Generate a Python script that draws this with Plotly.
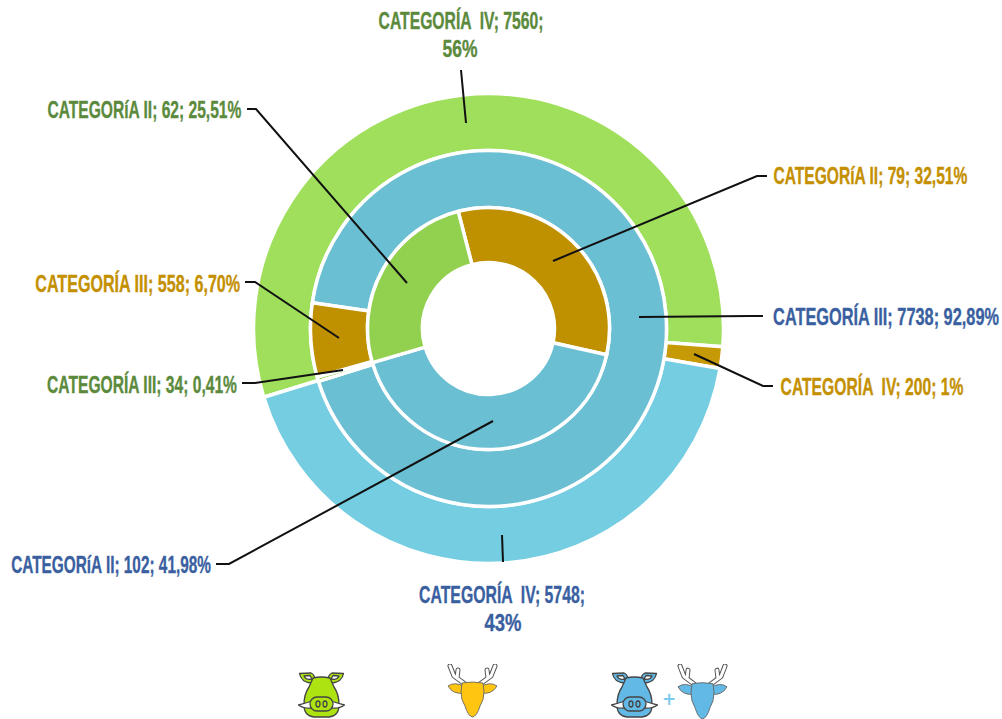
import base64
import json
import plotly.graph_objects as go

W, H = 1002, 719
CX, CY = 488.5, 328.5

# ---- data ----
outer_labels = ["Categoría IV (verde)", "Categoría IV (dorado)", "Categoría IV (azul)"]
outer_values = [7560, 200, 5748]
middle_labels = ["Categoría III (azul)", "Categoría III (verde)", "Categoría III (dorado)"]
middle_values = [7738, 34, 558]
inner_labels = ["Categoría II (dorado)", "Categoría II (azul)", "Categoría II (verde)"]
inner_values = [79, 102, 62]

outer_colors = ["#A0DF5C", "#C69A06", "#74CDE0"]
middle_colors = ["#6BBFD2", "#92D050", "#BF9000"]
inner_colors = ["#BF9000", "#6BBFD2", "#92D050"]

GREEN, GOLD, BLUE = "#5B8A3C", "#C49000", "#3A5FA0"

# text, left x, right x, y, colour
labels = [
    ("CATEGORÍA  IV; 7560;", 378, 543, 20, GREEN),
    ("56%", 442, 477, 48, GREEN),
    ("CATEGORíA II; 62; 25,51%", 47, 241, 109, GREEN),
    ("CATEGORÍA III; 558; 6,70%", 35, 240, 283, GOLD),
    ("CATEGORÍA III; 34; 0,41%", 47, 237, 384, GREEN),
    ("CATEGORíA II; 102; 41,98%", 11, 211, 564, BLUE),
    ("CATEGORÍA  IV; 5748;", 419, 585, 594, BLUE),
    ("43%", 484, 521, 622, BLUE),
    ("CATEGORíA II; 79; 32,51%", 773, 967, 176, GOLD),
    ("CATEGORÍA III; 7738; 92,89%", 773, 999, 316, BLUE),
    ("CATEGORÍA  IV; 200; 1%", 780, 963, 386, GOLD),
]

leaders = [
    [(247, 109), (256, 109), (407, 283)],
    [(245, 282), (255, 282), (339, 338)],
    [(242, 383), (255, 383), (343, 370)],
    [(216, 564), (229, 564), (493, 421)],
    [(461, 70), (466, 123)],
    [(502, 535), (503, 562)],
    [(767, 176), (757, 176), (553, 261)],
    [(763, 316), (750, 316), (639, 317)],
    [(773, 386), (763, 386), (694, 354)],
]


def px(x):
    return x / W


def py(y):
    return 1 - y / H


def domain(r):
    return dict(x=[px(CX - r), px(CX + r)], y=[py(CY + r), py(CY - r)])


def ring(vals, names, cols, r_out, r_in, rot):
    return go.Pie(
        values=vals, labels=names, marker=dict(colors=cols, line=dict(color="white", width=3.5)),
        hole=r_in / r_out, domain=domain(r_out), rotation=rot, sort=False,
        direction="clockwise", textinfo="none", showlegend=False,
    )


fig = go.Figure()
fig.add_trace(ring(outer_values, outer_labels, outer_colors, 235, 178, 253))
fig.add_trace(ring(middle_values, middle_labels, middle_colors, 178, 121, 278.3))
fig.add_trace(ring(inner_values, inner_labels, inner_colors, 121, 66, 345.5))

annotations = [
    dict(text=t, x=px((x0 + x1) / 2), y=py(y), xref="paper", yref="paper", xanchor="center", yanchor="middle",
         showarrow=False, font=dict(family="Liberation Sans, sans-serif", size=24, color=c, weight="bold"))
    for t, x0, x1, y, c in labels
]
annotations.append(dict(text="+", x=px(669), y=py(699), xref="paper", yref="paper", showarrow=False,
                        xanchor="center", yanchor="middle",
                        font=dict(family="DejaVu Sans", size=17, color="#7CCBEE", weight="bold")))

shapes = []
for pts in leaders:
    path = "M " + " L ".join(f"{px(x):.5f},{py(y):.5f}" for x, y in pts)
    shapes.append(dict(type="path", path=path, xref="paper", yref="paper",
                       line=dict(color="#111111", width=2)))


def boar_svg(fill):
    s = 'stroke="#444" stroke-width="1.3" stroke-linejoin="round"'
    return f'''<svg xmlns="http://www.w3.org/2000/svg" viewBox="0 0 47 46" preserveAspectRatio="none">
<path d="M1.5,1.5 L13,1 Q17,3 17,8 L13,11 Q3,10 1.5,1.5Z" fill="{fill}" {s}/>
<path d="M45.5,1.5 L34,1 Q30,3 30,8 L34,11 Q44,10 45.5,1.5Z" fill="{fill}" {s}/>
<path d="M6,4 L12,3.5 L14,7 Q8,8.5 6,4Z" fill="#fff" {s}/>
<path d="M41,4 L35,3.5 L33,7 Q39,8.5 41,4Z" fill="#fff" {s}/>
<path d="M15,6 Q23,4 32,6 L36,15 Q41,22 41,33 Q41,44 31,45 L16,45 Q6,44 6,33 Q6,22 11,15Z" fill="{fill}" {s}/>
<path d="M0.5,33 Q8,31 14,29 L14,36 Q6,37 0.5,33Z" fill="#fff" {s}/>
<path d="M46.5,33 Q39,31 33,29 L33,36 Q41,37 46.5,33Z" fill="#fff" {s}/>
<rect x="12" y="25" width="23" height="14" rx="7" fill="{fill}" {s}/>
<ellipse cx="20" cy="32" rx="2" ry="3" fill="none" {s}/>
<ellipse cx="27" cy="32" rx="2" ry="3" fill="none" {s}/>
</svg>'''


def deer_svg(fill):
    ant = "M18,20 L7,12 L3,2 M10,14 L11,6"
    ant2 = "M33,20 L44,12 L48,2 M41,14 L40,6"
    s = 'stroke="#666" stroke-width="0.9" stroke-linejoin="round"'
    return f'''<svg xmlns="http://www.w3.org/2000/svg" viewBox="0 0 51 54" preserveAspectRatio="none">
<g fill="none" stroke-linecap="round">
<path d="{ant}" stroke="#555" stroke-width="5"/><path d="{ant}" stroke="#fff" stroke-width="3"/>
<path d="{ant2}" stroke="#555" stroke-width="5"/><path d="{ant2}" stroke="#fff" stroke-width="3"/>
</g>
<path d="M18,23 Q8,17 1,22 Q6,31 18,29Z" fill="{fill}" {s}/>
<path d="M33,23 Q43,17 50,22 Q45,31 33,29Z" fill="{fill}" {s}/>
<path d="M15,19 Q25,17 36,19 L37,28 Q37,36 33,42 Q30,52 25.5,53 Q21,52 18,42 Q14,36 14,28Z" fill="{fill}" {s}/>
</svg>'''


def img(svg, x0, y0, x1, y1):
    uri = "data:image/svg+xml;base64," + base64.b64encode(svg.encode()).decode()
    return dict(source=uri, xref="paper", yref="paper", x=px(x0), y=py(y0),
                sizex=(x1 - x0) / W, sizey=(y1 - y0) / H, xanchor="left", yanchor="top",
                sizing="stretch", layer="above")


images = [
    img(boar_svg("#AEE312"), 298, 672, 345, 718),
    img(deer_svg("#FFC511"), 447, 664, 498, 718),
    img(boar_svg("#63B9E5"), 611, 672, 658, 718),
    img(deer_svg("#63B9E5"), 677, 664, 728, 720),
]

fig.update_layout(
    width=W, height=H, autosize=False, margin=dict(l=0, r=0, t=0, b=0),
    paper_bgcolor="white", plot_bgcolor="white",
    annotations=annotations, shapes=shapes, images=images,
)

widths = {t: x1 - x0 for t, x0, x1, _, _ in labels}
post = """
document.documentElement.style.overflow='hidden';
document.body.style.margin='0';
document.body.style.overflow='hidden';
var W=%s;
document.querySelectorAll('.annotation-text').forEach(function(e){
  var k=e.textContent.replace(/\\s+/g,' ');
  var key=Object.keys(W).find(function(t){return t.replace(/\\s+/g,' ')===k;});
  if(key){
    var r=W[key]/e.getComputedTextLength();
    e.style.transformBox='fill-box';
    e.style.transformOrigin='center';
    e.style.transform='scaleX('+r+')';
    e.style.stroke=e.style.fill;
    e.style.strokeWidth='0.35px';
  }
});
""" % json.dumps(widths, ensure_ascii=False)

fig.write_html("out.html", config=dict(displayModeBar=False), post_script=post)
